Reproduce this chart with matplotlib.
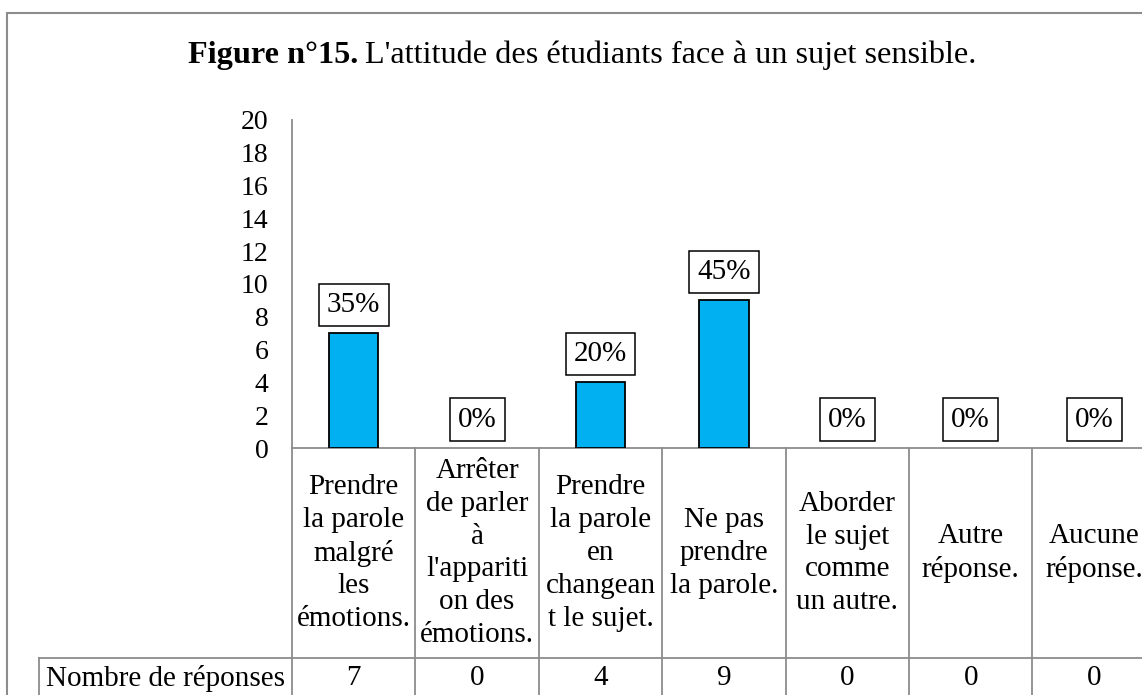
import matplotlib
matplotlib.use("Agg")
import matplotlib.pyplot as plt
import matplotlib.transforms as mtransforms
from matplotlib.patches import Rectangle

plt.rcParams["font.family"] = ["Liberation Serif", "DejaVu Serif"]

categories = [
    "Prendre\nla parole\nmalgré\nles\némotions.",
    "Arrêter\nde parler\nà\nl'appariti\non des\némotions.",
    "Prendre\nla parole\nen\nchangean\nt le sujet.",
    "Ne pas\nprendre\nla parole.",
    "Aborder\nle sujet\ncomme\nun autre.",
    "Autre\nréponse.",
    "Aucune\nréponse.",
]
counts = [7, 0, 4, 9, 0, 0, 0]
percent_labels = ["35%", "0%", "20%", "45%", "0%", "0%", "0%"]
row_label = "Nombre de réponses"
yticks = list(range(0, 21, 2))

W, H = 1142, 695
fig = plt.figure(figsize=(W / 100, H / 100), dpi=100)

# plot area in pixels
px_left, px_top, px_bottom, col_w = 292, 120, 448, 123.4
ncol = len(categories)
ax = fig.add_axes([px_left / W, 1 - px_bottom / H,
                   ncol * col_w / W, (px_bottom - px_top) / H])

x = list(range(ncol))
edge_w = [1.3 if v > 0 else 0 for v in counts]
ax.bar(x, counts, width=0.4, color="#00B0F0", edgecolor="black",
       linewidth=edge_w, zorder=3)
ax.set_xlim(-0.5, ncol - 0.5)
ax.set_ylim(0, 20)
ax.set_yticks(yticks)
ax.tick_params(axis="y", length=0, pad=17, labelsize=20)
ax.set_xticks([])
grey = "#8c8c8c"
for s in ["top", "right"]:
    ax.spines[s].set_visible(False)
ax.spines["left"].set_color(grey)
ax.spines["bottom"].set_color(grey)
ax.spines["left"].set_linewidth(1.3)
ax.spines["bottom"].set_linewidth(1.3)

# data labels in boxes
for xi, v, lab in zip(x, counts, percent_labels):
    ax.annotate(lab, (xi, v), xytext=(0, 20.5), textcoords="offset points",
                ha="center", va="center", fontsize=21,
                bbox=dict(boxstyle="square,pad=0.28", fc="white", ec="black", lw=1.1),
                zorder=4)

# data table below the axis
span = px_bottom - px_top


def yax(py):
    return (px_bottom - py) / span


trans = mtransforms.blended_transform_factory(ax.transData, ax.transAxes)
row1_bottom, table_bottom = 658, 700
label_left = -0.5 + (39 - px_left) / col_w

for k in range(ncol + 1):
    ax.plot([k - 0.5, k - 0.5], [0, yax(table_bottom)], transform=trans,
            color=grey, lw=1.3, clip_on=False)
ax.plot([label_left, ncol - 0.5], [yax(row1_bottom)] * 2, transform=trans,
        color=grey, lw=1.3, clip_on=False)
ax.plot([label_left, label_left], [yax(row1_bottom), yax(table_bottom)],
        transform=trans, color=grey, lw=1.3, clip_on=False)

for xi, cat, v in zip(x, categories, counts):
    ax.text(xi, yax((px_bottom + row1_bottom) / 2), cat, transform=trans,
            ha="center", va="center", fontsize=21, linespacing=1.34, clip_on=False)
    ax.text(xi, yax(678), str(v), transform=trans, ha="center", va="center",
            fontsize=21, clip_on=False)
ax.text((label_left - 0.5) / 2, yax(678), row_label, transform=trans,
        ha="center", va="center", fontsize=21, clip_on=False)

# title
fig.text(358 / W, 1 - 63 / H, "Figure n°15.", ha="right", va="baseline",
         fontsize=23.2, fontweight="bold")
fig.text(365 / W, 1 - 63 / H, "L'attitude des étudiants face à un sujet sensible.",
         ha="left", va="baseline", fontsize=23.2)

# outer frame
fig.patches.append(Rectangle((7 / W, -0.1), 2, 1.1 - 13 / H, transform=fig.transFigure,
                             fill=False, ec="#8c8c8c", lw=1.5))

fig.savefig("out.png", dpi=100)
